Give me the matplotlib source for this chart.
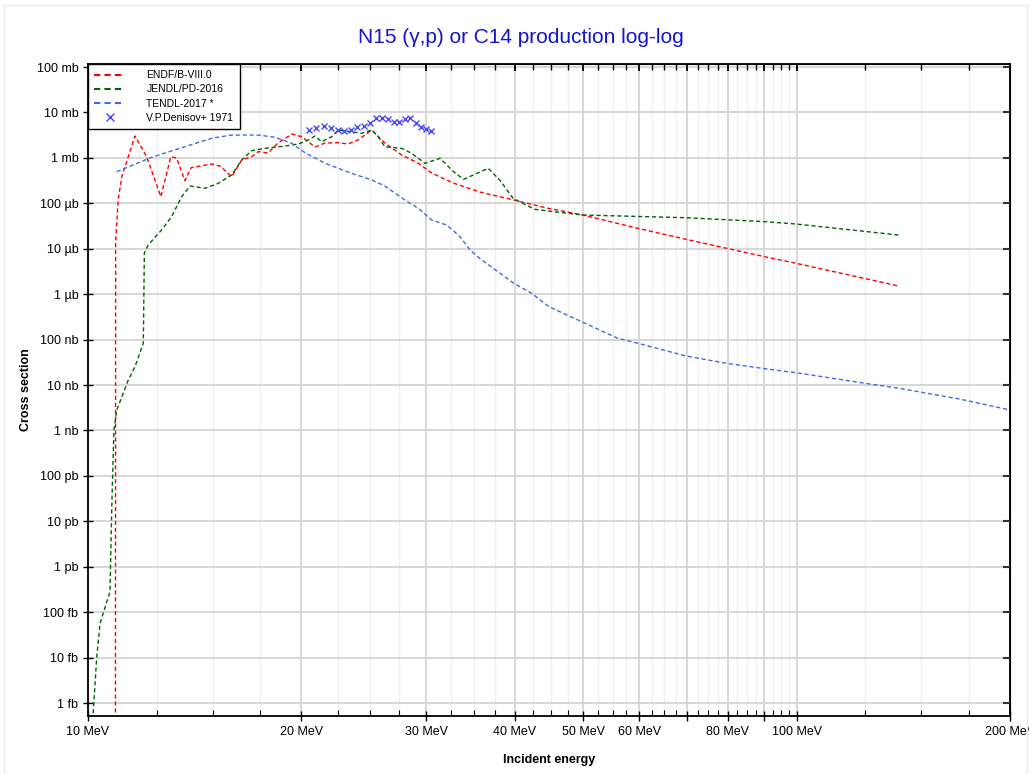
import math
import matplotlib
matplotlib.use("Agg")
import matplotlib.pyplot as plt
from matplotlib.ticker import FixedLocator, FuncFormatter, NullFormatter
from matplotlib.patches import Rectangle
from matplotlib.lines import Line2D

plt.rcParams["font.family"] = ["Liberation Sans Narrow", "Liberation Sans", "DejaVu Sans"]

# energies in MeV, cross sections in mb
endf_e = [10.93, 10.94, 11.03, 11.16, 11.28, 11.65, 12.10, 12.67, 13.09, 13.34, 13.70, 13.98,
          14.94, 15.36, 15.95, 16.48, 17.02, 17.39, 17.95, 18.54, 19.39, 20.03, 20.91, 21.60,
          22.53, 23.27, 24.04, 25.14, 26.24, 27.71, 29.22, 30.55, 32.73, 35.74, 39.9, 44.43,
          49.95, 59.7, 69.8, 79.7, 90.2, 99.8, 139.4]
endf_xs = [1e-20, 0.0141, 0.118, 0.385, 0.64, 3.03, 1.06, 0.14, 1.06, 0.99, 0.314, 0.607,
           0.733, 0.662, 0.385, 0.897, 1.06, 1.37, 1.28, 2.12, 3.35, 2.92, 1.73, 2.12,
           2.16, 2.02, 2.47, 4.1, 2.12, 1.16, 0.771, 0.464, 0.28, 0.177, 0.118, 0.0787,
           0.0552, 0.0281, 0.0161, 0.0102, 0.00667, 0.00478, 0.00151]

jendl_e = [10.17, 10.29, 10.40, 10.74, 10.81, 10.88, 10.98, 11.40, 11.65, 11.97, 12.01, 12.16,
           12.70, 13.12, 13.56, 13.93, 14.63, 15.27, 15.95, 16.48, 17.02, 17.77, 18.97, 19.81,
           20.46, 20.91, 21.37, 22.08, 22.55, 23.56, 24.33, 25.14, 25.68, 26.24, 27.71, 28.62,
           29.9, 31.4, 32.8, 33.9, 35.4, 36.7, 38.1, 39.8, 42.7, 46.8, 49.95, 69.8, 90.2,
           99.8, 139.4]
jendl_xs = [6e-13, 1.05e-11, 5.7e-11, 2.8e-10, 2.95e-8, 1.02e-6, 2.82e-6, 1.29e-5, 2.53e-5,
            8.3e-5, 8.0e-3, 0.0121, 0.0258, 0.0507, 0.14, 0.24, 0.214, 0.275, 0.42, 0.897,
            1.44, 1.62, 1.82, 2.02, 2.47, 3.03, 2.27, 2.92, 4.1, 3.75, 3.47, 4.1, 2.92, 1.76,
            1.62, 1.26, 0.759, 0.977, 0.496, 0.337, 0.457, 0.589, 0.326, 0.129, 0.0738,
            0.062, 0.0552, 0.0482, 0.0394, 0.035, 0.020]

tendl_e = [10.98, 12.30, 13.70, 14.94, 15.95, 17.39, 18.36, 19.39, 20.24, 21.60, 23.56, 25.14,
           26.24, 28.0, 29.24, 30.55, 32.07, 33.5, 34.6, 35.7, 39.9, 42.3, 44.7, 49.95, 55.9,
           59.7, 69.8, 79.7, 90.2, 99.8, 124.9, 139.4, 170.5, 200.0]
tendl_xs = [0.496, 1.03, 1.76, 2.7, 3.18, 3.18, 2.84, 2.09, 1.3, 0.759, 0.457, 0.326, 0.24,
            0.118, 0.0776, 0.0429, 0.0333, 0.0184, 9.4e-3, 6.15e-3, 1.73e-3, 1.04e-3, 5.3e-4,
            2.4e-4, 1.07e-4, 8.3e-5, 4.35e-5, 3.0e-5, 2.29e-5, 1.87e-5, 1.09e-5, 8.5e-6,
            4.85e-6, 2.82e-6]

denisov_e = [20.5, 21.0, 21.5, 22.0, 22.5, 23.0, 23.5, 24.0, 24.5, 25.0, 25.5, 26.0, 26.5,
             27.0, 27.5, 28.0, 28.5, 29.0, 29.5, 30.0, 30.5]
denisov_xs = [4.1, 4.61, 5.03, 4.47, 4.1, 3.9, 4.1, 4.71, 5.03, 5.95, 7.43, 7.43, 7.06, 6.16,
              6.25, 7.17, 7.43, 5.77, 4.71, 4.25, 3.9]

x_labels = {10: "10 MeV", 20: "20 MeV", 30: "30 MeV", 40: "40 MeV", 50: "50 MeV",
            60: "60 MeV", 80: "80 MeV", 100: "100 MeV", 200: "200 MeV"}
y_labels = {2: "100 mb", 1: "10 mb", 0: "1 mb", -1: "100 µb", -2: "10 µb", -3: "1 µb",
            -4: "100 nb", -5: "10 nb", -6: "1 nb", -7: "100 pb", -8: "10 pb", -9: "1 pb",
            -10: "100 fb", -11: "10 fb", -12: "1 fb"}

colors = {"ENDF/B-VIII.0": "#ff0000", "JENDL/PD-2016": "#006400", "TENDL-2017 *": "#4169e1"}

fig = plt.figure(figsize=(10.29, 7.74), dpi=100)
fig.patches.append(Rectangle((0.004, 0.0), 0.994, 0.993, transform=fig.transFigure,
                             fill=False, edgecolor="#ececec", lw=1))
ax = fig.add_axes([0.0855, 0.0749, 0.896, 0.8424])

dash = (0, (3, 2))
ax.plot(endf_e, endf_xs, color=colors["ENDF/B-VIII.0"], lw=1, ls=dash)
ax.plot(jendl_e, jendl_xs, color=colors["JENDL/PD-2016"], lw=1, ls=dash)
ax.plot(tendl_e, tendl_xs, color=colors["TENDL-2017 *"], lw=1, ls=dash)
ax.plot(denisov_e, denisov_xs, ls="none", marker="x", ms=4.5, mew=1, color="#4848ff")

ax.set_xscale("log")
ax.set_yscale("log")
ax.set_xlim(10, 200)
ax.set_ylim(10 ** -12.286, 10 ** 2.066)

major_x = [10, 20, 30, 40, 50, 60, 70, 80, 90, 100, 200]
minor_x = [v / 10 for v in range(100, 1000, 25) if v % 100 != 0] + [125, 150, 175]
major_y = [10.0 ** k for k in range(-12, 3)]
ax.xaxis.set_major_locator(FixedLocator(major_x))
ax.xaxis.set_minor_locator(FixedLocator(minor_x))
ax.xaxis.set_major_formatter(FuncFormatter(lambda v, p: x_labels.get(int(round(v)), "")))
ax.xaxis.set_minor_formatter(NullFormatter())
ax.yaxis.set_major_locator(FixedLocator(major_y))
ax.yaxis.set_minor_locator(FixedLocator([]))
ax.yaxis.set_major_formatter(FuncFormatter(lambda v, p: y_labels.get(int(round(math.log10(v))), "")))

ax.grid(True, which="major", color="#d4d4d4", lw=1.3)
ax.grid(True, which="minor", axis="x", color="#efefef", lw=0.9)
ax.set_axisbelow(True)

ax.tick_params(which="major", direction="inout", length=7, width=1, labelsize=9)
ax.tick_params(which="minor", direction="in", length=4, width=0.8)

# inward ticks on top and right
top = ax.secondary_xaxis("top")
top.set_zorder(5)
top.xaxis.set_major_locator(FixedLocator(major_x))
top.xaxis.set_minor_locator(FixedLocator(minor_x))
top.xaxis.set_major_formatter(NullFormatter())
top.xaxis.set_minor_formatter(NullFormatter())
top.tick_params(which="major", direction="in", length=5, width=1.3, color="black")
top.tick_params(which="minor", direction="in", length=4, width=1, color="black")
right = ax.secondary_yaxis("right")
right.set_zorder(5)
right.yaxis.set_major_locator(FixedLocator(major_y))
right.yaxis.set_minor_locator(FixedLocator([]))
right.yaxis.set_major_formatter(NullFormatter())
right.tick_params(which="major", direction="in", length=5, width=1.5, color="#333333")

for sp in ax.spines.values():
    sp.set_linewidth(1.3)

ax.set_xlabel("Incident energy", fontsize=9, fontweight="bold", labelpad=12)
ax.set_ylabel("Cross section", fontsize=9, fontweight="bold", labelpad=3)

fig.text(0.506, 0.952, "N15 (γ,p) or C14 production log-log", color="#1414d2",
         fontsize=15, ha="center", va="center")

handles = [Line2D([], [], color=c, lw=1.5, ls=(0, (3, 2))) for c in colors.values()]
handles.append(Line2D([], [], ls="none", marker="x", ms=6, mew=1, color="#4848ff"))
labels = list(colors.keys()) + ["V.P.Denisov+ 1971"]
leg = ax.legend(handles, labels, loc="upper left", bbox_to_anchor=(0, 1), borderaxespad=0,
                fontsize=7.5, fancybox=False, framealpha=1, edgecolor="black",
                handlelength=3.0, handletextpad=2.0, borderpad=0.6, labelspacing=0.4)
leg.get_frame().set_linewidth(1)
leg.set_zorder(10)

fig.savefig("out.png", dpi=100)
